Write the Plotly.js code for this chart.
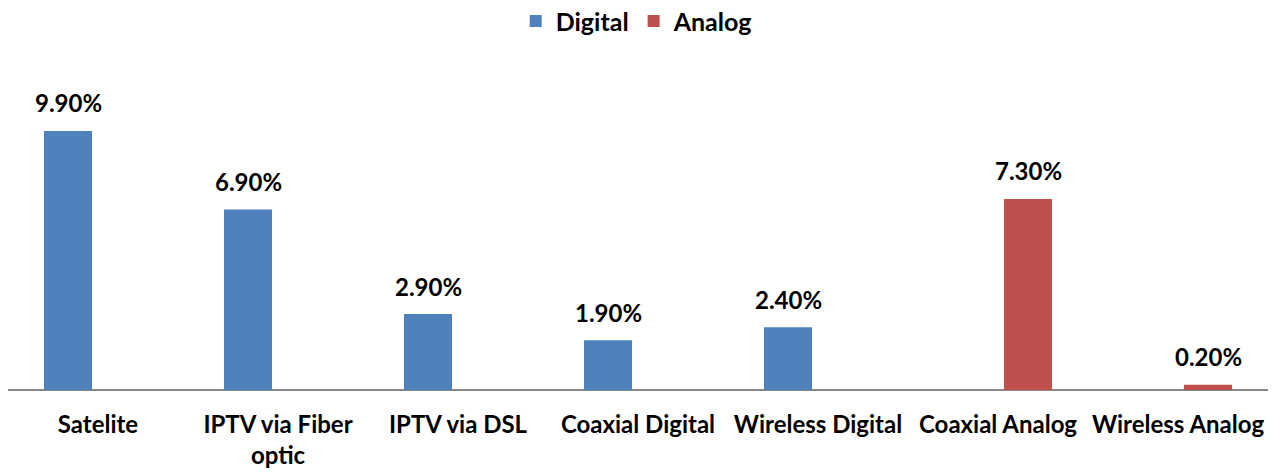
<!DOCTYPE html>
<html>
<head>
<meta charset="utf-8">
<script src="https://cdn.plot.ly/plotly-3.0.1.min.js"></script>
<style>html,body{margin:0;padding:0;background:#fff;}#chart{width:1276px;height:472px;}</style>
</head>
<body>
<div id="chart"></div>
<script>
const categories = ["Satelite", "IPTV via Fiber<br>optic", "IPTV via DSL", "Coaxial Digital", "Wireless Digital", "Coaxial Analog", "Wireless Analog"];
const digitalValues = [9.9, 6.9, 2.9, 1.9, 2.4, null, null];
const analogValues = [null, null, null, null, null, 7.3, 0.2];
const seriesNames = ["Digital", "Analog"];

const fontFam = "Lato, 'Open Sans', sans-serif";
const labelFont = {family: fontFam, size: 24, color: "#000", weight: "bold"};

const traces = [
  {type: "bar", name: seriesNames[0], x: categories, y: digitalValues, marker: {color: "#4F81BD"}, hoverinfo: "skip"},
  {type: "bar", name: seriesNames[1], x: categories, y: analogValues, marker: {color: "#C0504D"}, hoverinfo: "skip"}
];

// value labels, anchored to each bar's data position
const annotations = [];
[[digitalValues, -30], [analogValues, 30]].forEach(([vals, shift]) => {
  vals.forEach((v, i) => {
    if (v === null) return;
    annotations.push({x: categories[i], y: v, xref: "x", yref: "y", text: v.toFixed(2) + "%",
      showarrow: false, xanchor: "center", yanchor: "middle", xshift: shift, yshift: 28,
      font: labelFont});
  });
});

const layout = {
  width: 1276, height: 472,
  margin: {l: 8, r: 8, t: 76, b: 82},
  paper_bgcolor: "#fff", plot_bgcolor: "#fff",
  barmode: "group", bargap: 0.3333, bargroupgap: 0.2,
  font: {family: fontFam, size: 24, color: "#000", weight: "bold"},
  showlegend: true,
  legend: {orientation: "h", x: 0.499, xanchor: "center", xref: "container", y: 0.955, yanchor: "middle", yref: "container",
           font: {family: fontFam, size: 25, color: "#000", weight: "bold"}, tracegroupgap: 0},
  annotations: annotations,
  xaxis: {type: "category", showgrid: false, zeroline: false, showline: false, ticks: "",
          ticklabelstandoff: 18,
          tickfont: {family: fontFam, size: 24, color: "#000", weight: "bold"}, automargin: false},
  yaxis: {range: [0, 12], visible: true, showgrid: false, zeroline: true, zerolinecolor: "#888", zerolinewidth: 2,
          showticklabels: false, ticks: "", showline: false, fixedrange: true, automargin: false}
};

Plotly.newPlot("chart", traces, layout, {displayModeBar: false, staticPlot: true});
</script>
</body>
</html>
